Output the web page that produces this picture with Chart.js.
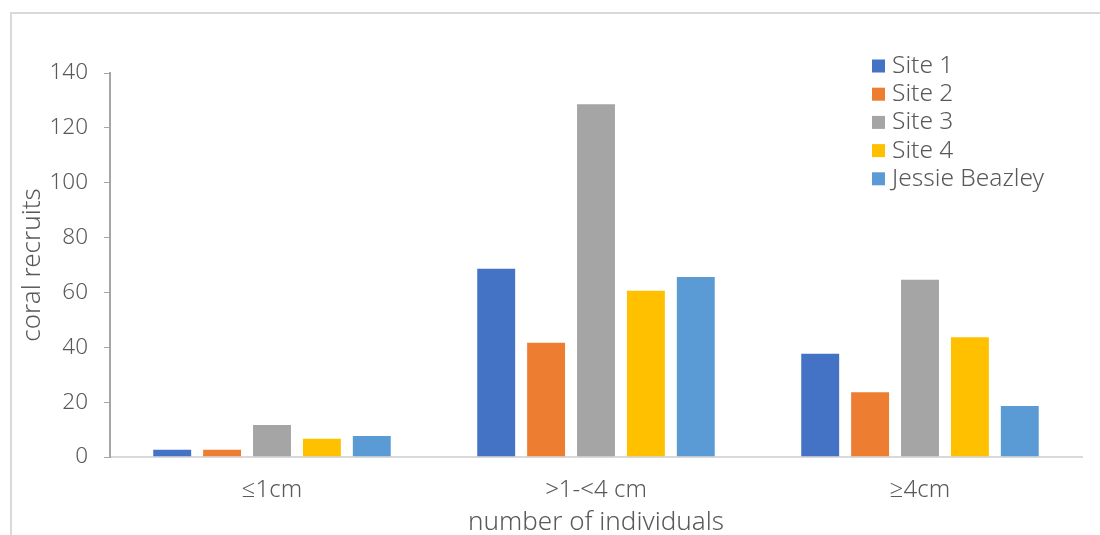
<!DOCTYPE html>
<html>
<head>
<meta charset="utf-8">
<script src="https://cdn.jsdelivr.net/npm/chart.js@4.4.1/dist/chart.umd.min.js"></script>
<style>
  html, body { margin: 0; padding: 0; background: #ffffff; }
  #wrap { width: 1100px; height: 535px; position: relative; }
</style>
</head>
<body>
<div id="wrap"><canvas id="chart" width="1100" height="535"></canvas></div>
<script>
// Size classes of coral recruits
const categories = ['≤1cm', '>1-<4 cm', '≥4cm'];

// Recruit counts per site, one value per size class
const site1 = [3, 69, 38];
const site2 = [3, 42, 24];
const site3 = [12, 129, 65];
const site4 = [7, 61, 44];
const jessieBeazley = [8, 66, 19];

const seriesNames = ['Site 1', 'Site 2', 'Site 3', 'Site 4', 'Jessie Beazley'];
const seriesValues = [site1, site2, site3, site4, jessieBeazley];
const seriesColors = ['#4472c4', '#ed7d31', '#a5a5a5', '#ffc000', '#5b9bd5'];

// Value axis range
const yMin = 0;
const yMax = 140;
const yStep = 20;

const FONT = "'Noto Sans', 'Open Sans', sans-serif";
const TEXT = '#595959';

// Thin frame around the whole chart
const framePlugin = {
  id: 'frame',
  beforeDraw(chart) {
    const ctx = chart.ctx;
    ctx.save();
    ctx.fillStyle = '#ffffff';
    ctx.fillRect(0, 0, chart.width, chart.height);
    ctx.strokeStyle = '#d9d9d9';
    ctx.lineWidth = 2;
    ctx.strokeRect(11, 13, chart.width + 20, chart.height + 20);
    ctx.restore();
  }
};

// Vertical legend placed inside the upper-right part of the plot
const legendPlugin = {
  id: 'insideLegend',
  afterDraw(chart) {
    const ctx = chart.ctx;
    const x = 872, y0 = 66, rowH = 28.2, box = 13;
    ctx.save();
    ctx.font = '300 24.5px ' + FONT;
    ctx.textBaseline = 'middle';
    ctx.textAlign = 'left';
    chart.data.datasets.forEach((ds, i) => {
      const cy = y0 + i * rowH;
      ctx.fillStyle = ds.backgroundColor;
      ctx.fillRect(x, cy - box / 2, box, box);
      ctx.fillStyle = TEXT;
      ctx.fillText(ds.label, x + 20, cy);
    });
    ctx.restore();
  }
};

const datasets = seriesNames.map((name, i) => ({
  label: name,
  data: seriesValues[i],
  backgroundColor: seriesColors[i],
  borderColor: 'rgba(255,255,255,0.35)',
  borderWidth: 1,
  categoryPercentage: 0.77,
  barPercentage: 0.8
}));

new Chart(document.getElementById('chart'), {
  type: 'bar',
  data: { labels: categories, datasets },
  options: {
    responsive: false,
    animation: false,
    devicePixelRatio: 1,
    layout: { padding: { left: 0, right: 18, top: 73, bottom: 0 } },
    plugins: {
      legend: { display: false },
      tooltip: { enabled: false }
    },
    scales: {
      x: {
        grid: { display: false },
        border: { display: true, color: '#d9d9d9', width: 2 },
        ticks: { color: TEXT, font: { family: FONT, size: 24, weight: 300 }, padding: 11 },
        title: {
          display: true,
          text: 'number of individuals',
          color: TEXT,
          font: { family: FONT, size: 26, weight: 300 },
          padding: { top: 0, bottom: -3 }
        },
        afterFit(s) { s.height = 78; }
      },
      y: {
        min: yMin,
        max: yMax,
        grid: { display: true, drawOnChartArea: false, drawTicks: true, tickLength: 6, color: '#a6a6a6', tickWidth: 1 },
        border: { display: true, color: '#a6a6a6', width: 2 },
        ticks: { stepSize: yStep, color: TEXT, font: { family: FONT, size: 22.5, weight: 300 }, padding: 16 },
        title: {
          display: true,
          text: 'coral recruits',
          color: TEXT,
          font: { family: FONT, size: 26, weight: 300 },
          padding: { top: 17, bottom: 0 }
        },
        afterFit(s) { s.width = 110; }
      }
    }
  },
  plugins: [framePlugin, legendPlugin]
});
</script>
</body>
</html>
